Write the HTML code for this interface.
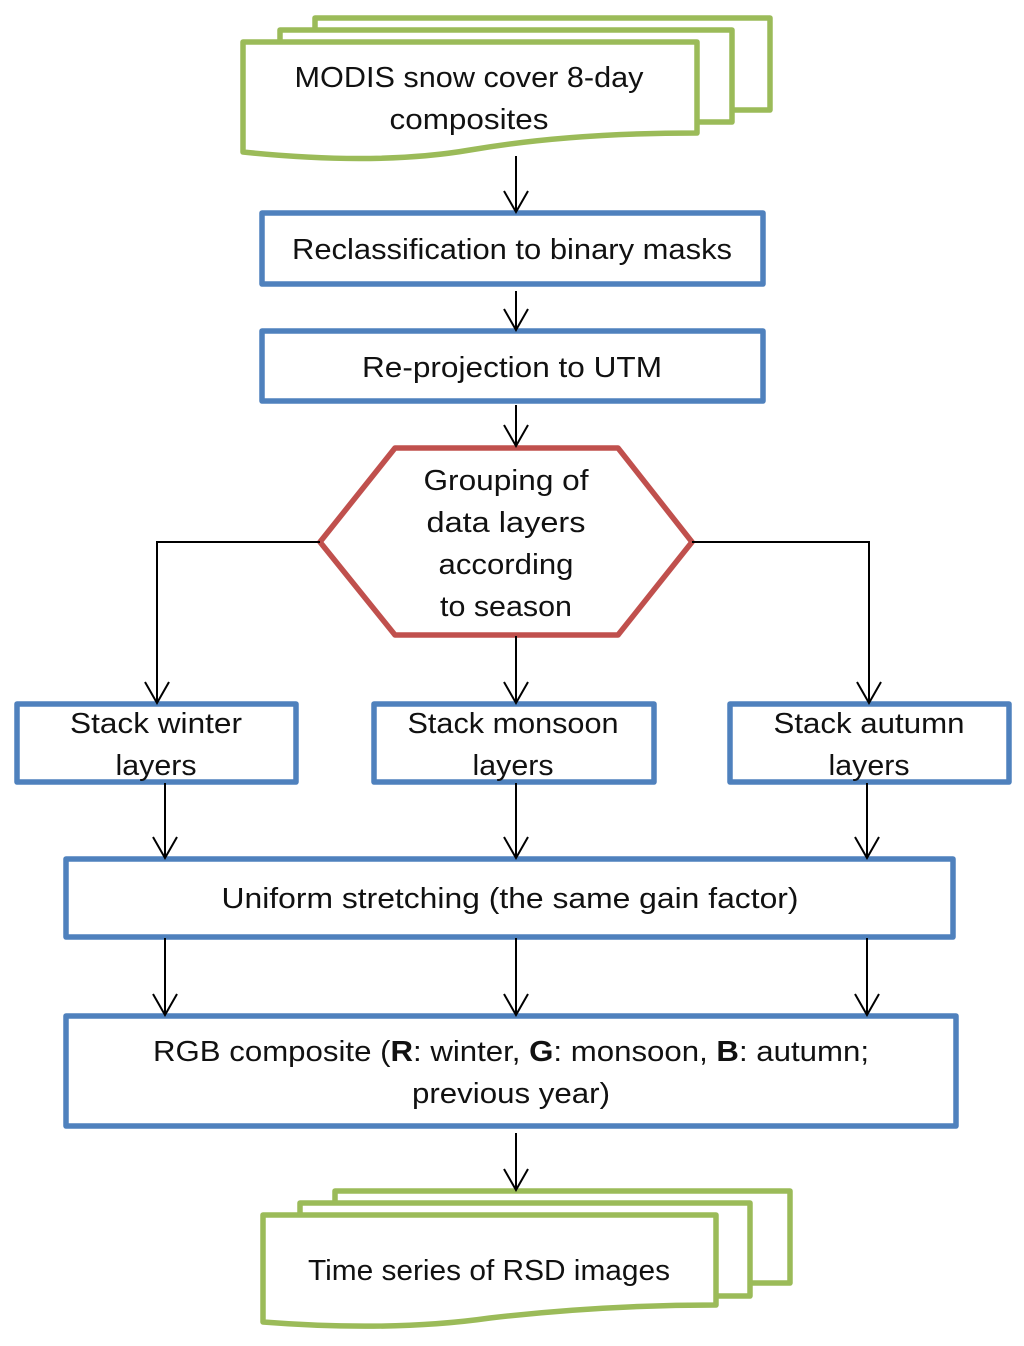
<!DOCTYPE html>
<html><head><meta charset="utf-8"><style>
html,body{margin:0;padding:0;background:#fff}
svg{display:block}
text{font-family:"Liberation Sans",sans-serif;font-size:29px;fill:#111;text-anchor:middle}
</style></head><body>
<svg width="1024" height="1346" viewBox="0 0 1024 1346" xmlns="http://www.w3.org/2000/svg">
<defs>
<marker id="a" markerWidth="30" markerHeight="30" refX="13" refY="22" orient="0" markerUnits="userSpaceOnUse">
<path d="M1,1 L13,22 L25,1" fill="none" stroke="#000" stroke-width="2"/>
</marker>
</defs>
<g fill="#fff" stroke="#9bbb59" stroke-width="5.5" stroke-linejoin="round">
<rect x="315" y="18" width="455" height="92"/>
<rect x="280" y="30" width="452" height="92"/>
<path d="M243,42 H697 V133 C620,133 540,138 470,150 C400,162 320,160 243,152 Z"/>
<rect x="335" y="1191" width="455" height="92"/>
<rect x="300" y="1203" width="450" height="93"/>
<path d="M263,1215 H716 V1305 C640,1305 560,1310 490,1318 C420,1328 340,1328 263,1322 Z"/>
</g>
<g fill="#fff" stroke="#4f81bd" stroke-width="5.5" stroke-linejoin="round">
<rect x="262" y="213" width="501" height="71"/>
<rect x="262" y="331" width="501" height="70"/>
<rect x="17" y="704" width="279" height="78"/>
<rect x="374" y="704" width="280" height="78"/>
<rect x="730" y="704" width="279" height="78"/>
<rect x="66" y="859" width="887" height="78"/>
<rect x="66" y="1016" width="890" height="110"/>
</g>
<polygon points="320,542 395,448 618,448 692,542 618,635 395,635" fill="#fff" stroke="#c0504d" stroke-width="5.5" stroke-linejoin="round"/>
<g stroke="#000" stroke-width="2" fill="none" marker-end="url(#a)">
<path d="M516,156 V212"/>
<path d="M516,291 V330"/>
<path d="M516,405 V446"/>
<path d="M320,542 H157 V703"/>
<path d="M692,542 H869 V703"/>
<path d="M516,636 V703"/>
<path d="M165,783 V858"/>
<path d="M516,783 V858"/>
<path d="M867,783 V858"/>
<path d="M165,938 V1015"/>
<path d="M516,938 V1015"/>
<path d="M867,938 V1015"/>
<path d="M516,1133 V1190"/>
</g>
<g lengthAdjust="spacingAndGlyphs">
<text x="469" y="87" textLength="349" lengthAdjust="spacingAndGlyphs">MODIS snow cover 8-day</text>
<text x="469" y="129" textLength="159" lengthAdjust="spacingAndGlyphs">composites</text>
<text x="512" y="259" textLength="440" lengthAdjust="spacingAndGlyphs">Reclassification to binary masks</text>
<text x="512" y="377" textLength="300" lengthAdjust="spacingAndGlyphs">Re-projection to UTM</text>
<text x="506" y="490" textLength="165" lengthAdjust="spacingAndGlyphs">Grouping of</text>
<text x="506" y="532" textLength="159" lengthAdjust="spacingAndGlyphs">data  layers</text>
<text x="506" y="574" textLength="135" lengthAdjust="spacingAndGlyphs">according</text>
<text x="506" y="616" textLength="132" lengthAdjust="spacingAndGlyphs">to season</text>
<text x="156" y="733" textLength="172" lengthAdjust="spacingAndGlyphs">Stack winter</text>
<text x="156" y="775" textLength="81" lengthAdjust="spacingAndGlyphs">layers</text>
<text x="513" y="733" textLength="211" lengthAdjust="spacingAndGlyphs">Stack monsoon</text>
<text x="513" y="775" textLength="81" lengthAdjust="spacingAndGlyphs">layers</text>
<text x="869" y="733" textLength="191" lengthAdjust="spacingAndGlyphs">Stack autumn</text>
<text x="869" y="775" textLength="81" lengthAdjust="spacingAndGlyphs">layers</text>
<text x="510" y="908" textLength="577" lengthAdjust="spacingAndGlyphs">Uniform stretching (the same gain factor)</text>
<text x="511" y="1061" textLength="716" lengthAdjust="spacingAndGlyphs">RGB composite (<tspan font-weight="bold">R</tspan>: winter, <tspan font-weight="bold">G</tspan>: monsoon, <tspan font-weight="bold">B</tspan>: autumn;</text>
<text x="511" y="1103" textLength="198" lengthAdjust="spacingAndGlyphs">previous year)</text>
<text x="489" y="1280" textLength="362" lengthAdjust="spacingAndGlyphs">Time series of RSD images</text>
</g>
</svg>
</body></html>
